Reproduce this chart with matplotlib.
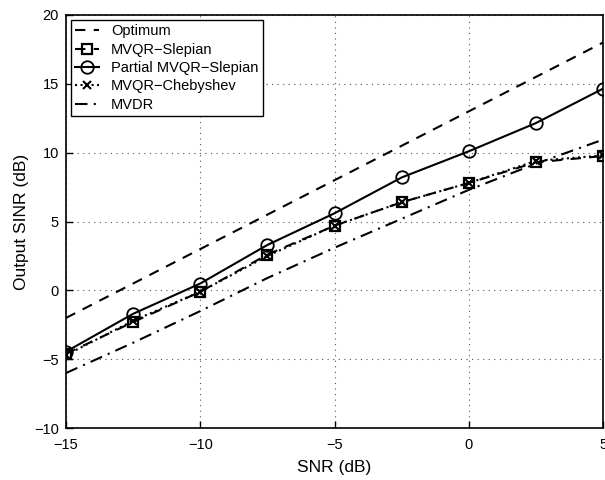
import numpy as np
import matplotlib
matplotlib.use("Agg")
import matplotlib.pyplot as plt

plt.rcParams['font.family'] = ['Liberation Sans', 'DejaVu Sans']

snr = [-15, -12.5, -10, -7.5, -5, -2.5, 0, 2.5, 5]
optimum = [-2, 0.5, 3, 5.5, 8, 10.5, 13, 15.5, 18]
mvqr_slepian = [-4.6, -2.3, -0.1, 2.6, 4.7, 6.4, 7.8, 9.3, 9.75]
partial_slepian = [-4.45, -1.7, 0.5, 3.3, 5.6, 8.2, 10.1, 12.15, 14.65]
mvqr_cheb = [-4.7, -2.2, -0.1, 2.5, 4.7, 6.4, 7.8, 9.4, 9.8]
mvdr = [-6.0, -3.8, -1.5, 0.9, 3.1, 5.2, 7.3, 9.2, 10.95]

fig = plt.figure(figsize=(6.05, 4.8), dpi=100)
ax = fig.add_axes([0.109, 0.108, 0.888, 0.861])

lw = 1.5
ax.plot(snr, optimum, '--', color='k', lw=lw, dashes=(5, 4), label='Optimum')
ax.plot(snr, mvqr_slepian, '--', color='k', lw=lw, dashes=(5, 4), marker='s',
        ms=6.5, mfc='none', mew=1.6, label='MVQR\u2212Slepian')
ax.plot(snr, partial_slepian, '-', color='k', lw=lw, marker='o',
        ms=9, mfc='none', mew=1.3, label='Partial MVQR\u2212Slepian')
ax.plot(snr, mvqr_cheb, ':', color='k', lw=lw, marker='x',
        ms=6, mew=1.5, label='MVQR\u2212Chebyshev')
ax.plot(snr, mvdr, '-.', color='k', lw=lw, dashes=(6, 3, 1, 3), label='MVDR')

ax.set_xlim(-15, 5)
ax.set_ylim(-10, 20)
ax.set_xticks([-15, -10, -5, 0, 5])
ax.set_yticks([-10, -5, 0, 5, 10, 15, 20])
ax.set_xticklabels(['\u221215', '\u221210', '\u22125', '0', '5'])
ax.set_yticklabels(['\u221210', '\u22125', '0', '5', '10', '15', '20'])
ax.tick_params(direction='in', labelsize=10.5, length=5, width=1)
ax.tick_params(axis='x', pad=7)
ax.tick_params(axis='y', pad=5)
ax.grid(True, linestyle=(0, (1, 4)), color='#555555', lw=0.8)
for s in ax.spines.values():
    s.set_linewidth(1.2)

ax.set_xlabel('SNR (dB)', fontsize=12.5, labelpad=6)
ax.set_ylabel('Output SINR (dB)', fontsize=12.5, labelpad=4)

leg = ax.legend(loc='upper left', fontsize=10.5, handlelength=1.65,
                fancybox=False, edgecolor='k', framealpha=1,
                borderaxespad=0.35, labelspacing=0.3, borderpad=0.3,
                handletextpad=0.8)
leg.get_frame().set_linewidth(1.0)

fig.savefig('out.png', dpi=100)
